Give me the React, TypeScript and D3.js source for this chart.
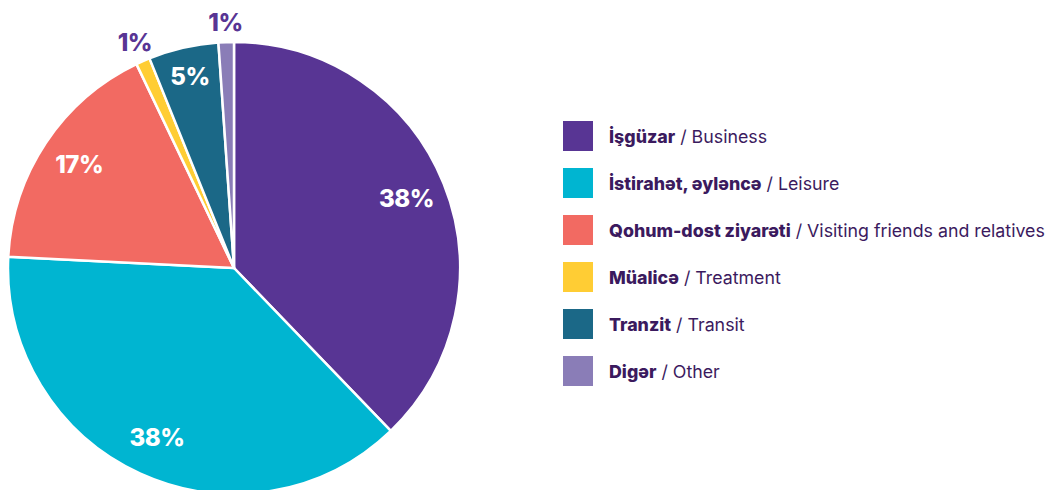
import React from "react";
import * as d3 from "d3";

const categoriesAz = ["İşgüzar", "İstirahət, əyləncə", "Qohum-dost ziyarəti", "Müalicə", "Tranzit", "Digər"];
const categoriesEn = ["Business", "Leisure", "Visiting friends and relatives", "Treatment", "Transit", "Other"];
const shares = [37.8, 38.0, 17.1, 1.0, 5.0, 1.1];
const labels = ["38%", "38%", "17%", "1%", "5%", "1%"];
const colors = ["#583594", "#00B5D1", "#F26A62", "#FFCD34", "#1B6887", "#8A7DB7"];
const outside = [false, false, false, true, false, true];

const W = 1051;
const H = 490;
const CX = 234;
const CY = 268;
const R = 226;
const TEXT = "#3B1A5E";
const FONT = "Inter, 'Open Sans', sans-serif";

export default function App() {
  const data = shares.map((v, i) => ({ v, i }));
  const pie = d3.pie<any>().value((d) => d.v).sort(null);
  const arcs = pie(data);
  const arc = d3.arc<any>().innerRadius(0).outerRadius(R);

  const labelPos = (a: any, r: number) => {
    const m = (a.startAngle + a.endAngle) / 2;
    return [CX + Math.sin(m) * r, CY - Math.cos(m) * r];
  };

  return (
    <svg width={W} height={H} style={{ position: "absolute", left: 0, top: 0 }}>
      <rect width={W} height={H} fill="#fff" />
      <g transform={`translate(${CX},${CY})`}>
        {arcs.map((a, i) => (
          <path key={i} d={arc(a) as string} fill={colors[i]} stroke="#fff" strokeWidth={2.5} strokeLinejoin="round" />
        ))}
      </g>
      {arcs.map((a, i) => {
        const r = outside[i] ? R + 20 : i === 4 ? 196 : 186;
        const [x, y] = labelPos(a, r);
        return (
          <text
            key={i}
            x={x}
            y={y}
            textAnchor="middle"
            dominantBaseline="central"
            fontFamily={FONT}
            fontWeight={800}
            fontSize={24}
            letterSpacing={-0.5}
            fill={outside[i] ? "#583594" : "#fff"}
          >
            {labels[i]}
          </text>
        );
      })}
      {categoriesAz.map((c, i) => {
        const y = 121 + i * 47;
        return (
          <g key={c}>
            <rect x={563} y={y} width={30} height={30} fill={colors[i]} />
            <text x={609} y={y + 22} fontFamily={FONT} fontSize={17.8} fill={TEXT}>
              <tspan fontWeight={800}>{c}</tspan>
              <tspan fontWeight={400}>{" / " + categoriesEn[i]}</tspan>
            </text>
          </g>
        );
      })}
    </svg>
  );
}
